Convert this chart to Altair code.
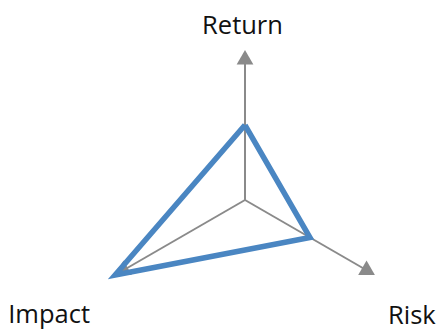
import altair as alt
import pandas as pd

# ---- data ----
categories = ["Return", "Risk", "Impact"]
values = [0.5, 0.5, 1.0]
axis_max = 1.0

n = len(categories)
axes_df = pd.DataFrame({
    "category": categories,
    "idx": list(range(n)),
    "value": values,
})
line_df = pd.DataFrame({
    "category": categories + categories[:1],
    "idx": list(range(n)) + [0],
    "order": list(range(n + 1)),
    "value": values + values[:1],
})

GRAY = "#8a8a8a"
BLUE = "#4a86c2"
FONT = "Open Sans"

xs = alt.Scale(domain=[-1.58, 1.28], nice=False, zero=False)
ys = alt.Scale(domain=[-0.86667, 1.28], nice=False, zero=False)

ang = "PI/2 - datum.idx*2*PI/" + str(n)


def base(df):
    return alt.Chart(df).transform_calculate(
        ang=ang,
        ca="cos(" + ang + ")",
        sa="sin(" + ang + ")",
    )


# axis shafts
shafts = base(axes_df).transform_calculate(
    x0="0", y0="0",
    x1=f"{axis_max}*0.92*datum.ca", y1=f"{axis_max}*0.92*datum.sa",
).mark_rule(color=GRAY, strokeWidth=2).encode(
    x=alt.X("x0:Q", scale=xs, axis=None),
    y=alt.Y("y0:Q", scale=ys, axis=None),
    x2="x1:Q",
    y2="y1:Q",
)

# arrow heads
heads = base(axes_df).transform_calculate(
    hx=f"{axis_max}*0.9517*datum.ca", hy=f"{axis_max}*0.9517*datum.sa",
    rot="datum.idx*360/" + str(n),
).mark_point(shape="triangle-up", filled=True, color=GRAY, opacity=1, size=280, strokeWidth=0).encode(
    x=alt.X("hx:Q", scale=xs, axis=None),
    y=alt.Y("hy:Q", scale=ys, axis=None),
    angle=alt.Angle("rot:Q", scale=None),
)

# data polygon
poly = base(line_df).transform_calculate(
    px="datum.value*datum.ca", py="datum.value*datum.sa",
).mark_line(color=BLUE, strokeWidth=5.5, strokeJoin="miter", strokeMiterLimit=10).encode(
    x=alt.X("px:Q", scale=xs, axis=None),
    y=alt.Y("py:Q", scale=ys, axis=None),
    order=alt.Order("order:Q"),
)


def label(cat, dx, dy):
    return base(axes_df).transform_filter(
        alt.datum.category == cat
    ).transform_calculate(
        lx=f"{axis_max}*datum.ca", ly=f"{axis_max}*datum.sa",
    ).mark_text(
        font=FONT, fontSize=25.5, color="#111111", align="center",
        baseline="alphabetic", dx=dx, dy=dy,
    ).encode(
        x=alt.X("lx:Q", scale=xs, axis=None),
        y=alt.Y("ly:Q", scale=ys, axis=None),
        text="category:N",
    )


labels = label("Return", -2.5, -16) + label("Risk", 37, 49) + label("Impact", -66, 48)

chart = alt.layer(shafts, heads, poly, labels).properties(
    width=429, height=322, padding=0,
    autosize=alt.AutoSizeParams(type="none"),
).configure_view(stroke=None)

chart.save("out.html", embed_options={"renderer": "svg", "actions": False})
